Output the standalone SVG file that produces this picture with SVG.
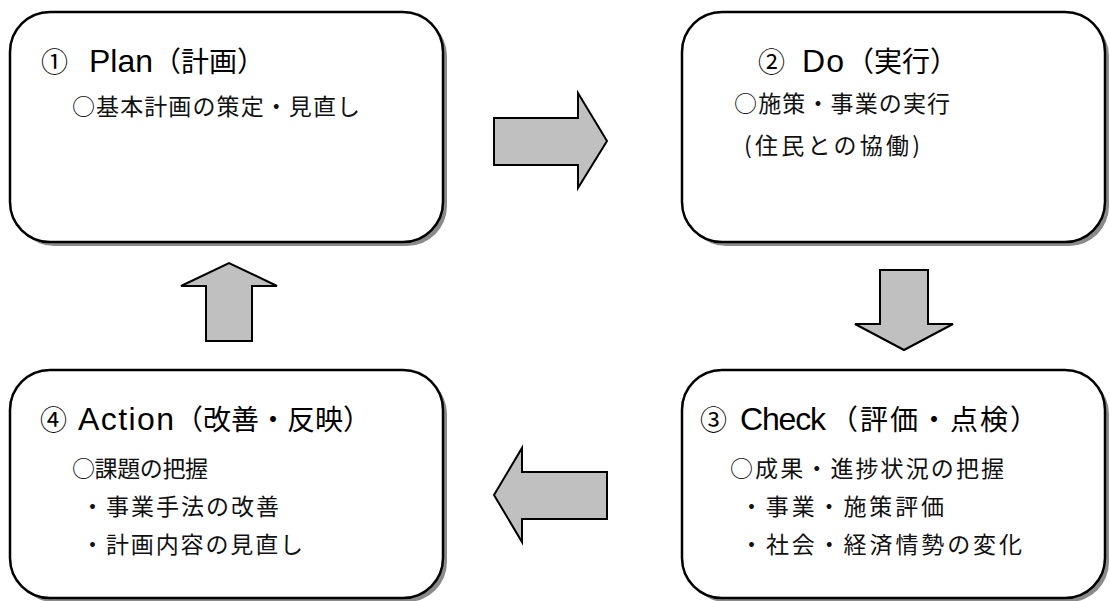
<svg xmlns="http://www.w3.org/2000/svg" width="1110" height="601" viewBox="0 0 1110 601">
<style>
.shadow{fill:#8a8a8a;}
.box{fill:#ffffff;stroke:#000;stroke-width:2.5;}
.arrow{fill:#c0c0c0;stroke:#000;stroke-width:2;stroke-linejoin:miter;}
.title{font-family:"Liberation Sans","Noto Sans CJK JP",sans-serif;font-size:28px;fill:#000;}
.num{font-family:"Noto Sans CJK JP",sans-serif;font-size:27px;}
.lat{font-family:"Liberation Sans",sans-serif;font-size:32px;}
.cjk{font-family:"Noto Sans CJK JP",sans-serif;font-size:28px;}
.body{font-family:"Noto Sans CJK JP",sans-serif;font-size:23px;fill:#111;}
</style>
<rect width="1110" height="601" fill="#fff"/>
<g id="plan">
<rect class="shadow" x="14" y="16" width="433" height="230" rx="40"/>
<rect class="box" x="10" y="12" width="433" height="230" rx="40"/>
<text class="title" y="72"><tspan class="num" x="41">①</tspan><tspan class="lat" x="89" textLength="64" lengthAdjust="spacing">Plan</tspan><tspan class="cjk" x="153" textLength="112" lengthAdjust="spacing">（計画）</tspan></text>
<text class="body" x="72" y="115" textLength="288" lengthAdjust="spacing">○基本計画の策定・見直し</text>
</g>
<g id="do">
<rect class="shadow" x="686" y="16" width="423" height="230" rx="40"/>
<rect class="box" x="682" y="12" width="423" height="230" rx="40"/>
<text class="title" y="72"><tspan class="num" x="758">②</tspan><tspan class="lat" x="802" textLength="42" lengthAdjust="spacing">Do</tspan><tspan class="cjk" x="846" textLength="112" lengthAdjust="spacing">（実行）</tspan></text>
<text class="body" x="734" y="112" textLength="216" lengthAdjust="spacing">○施策・事業の実行</text>
<text class="body" x="744" y="154" textLength="176" lengthAdjust="spacing">(住民との協働)</text>
</g>
<g id="check">
<rect class="shadow" x="686" y="374" width="423" height="228" rx="40"/>
<rect class="box" x="682" y="370" width="423" height="228" rx="40"/>
<text class="title" y="430"><tspan class="num" x="700">③</tspan><tspan class="lat" x="740" textLength="86" lengthAdjust="spacing">Check</tspan><tspan class="cjk" x="830" textLength="208" lengthAdjust="spacing">（評価・点検）</tspan></text>
<text class="body" x="730" y="477" textLength="274" lengthAdjust="spacing">○成果・進捗状況の把握</text>
<text class="body" x="740" y="515" textLength="204" lengthAdjust="spacing">・事業・施策評価</text>
<text class="body" x="740" y="553" textLength="282" lengthAdjust="spacing">・社会・経済情勢の変化</text>
</g>
<g id="action">
<rect class="shadow" x="14" y="374" width="433" height="228" rx="40"/>
<rect class="box" x="10" y="370" width="433" height="228" rx="40"/>
<text class="title" y="430"><tspan class="num" x="40">④</tspan><tspan class="lat" x="78" textLength="96" lengthAdjust="spacing">Action</tspan><tspan class="cjk" x="175" textLength="196" lengthAdjust="spacing">（改善・反映）</tspan></text>
<text class="body" x="72" y="477" textLength="136" lengthAdjust="spacing">○課題の把握</text>
<text class="body" x="81" y="515" textLength="198" lengthAdjust="spacing">・事業手法の改善</text>
<text class="body" x="81" y="553" textLength="222" lengthAdjust="spacing">・計画内容の見直し</text>
</g>
<g id="connectors">
<path class="arrow" d="M494,118 L578,118 L578,93 L607,141 L578,188 L578,165 L494,165 Z"/>
<path class="arrow" d="M880,270 L928,270 L928,324 L953,324 L904,350 L855,324 L880,324 Z"/>
<path class="arrow" d="M607,472 L522,472 L522,448 L494,495 L522,542 L522,519 L607,519 Z"/>
<path class="arrow" d="M206,341 L206,286 L181,286 L229,263 L277,286 L252,286 L252,341 Z"/>
</g>
</svg>
